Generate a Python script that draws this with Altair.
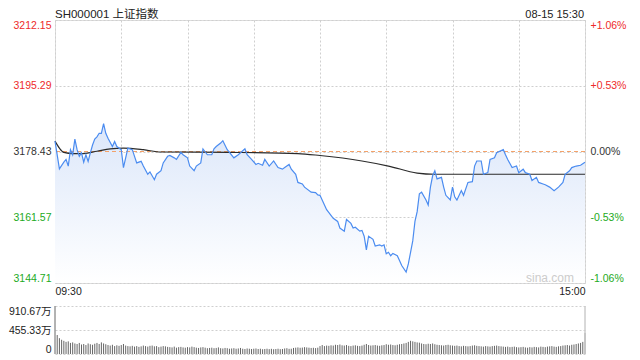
import altair as alt
import pandas as pd

# ---------------- data ----------------
prev_close = 3178.43
price_ticks = [3144.71, 3161.57, 3178.43, 3195.29, 3212.15]
pct_ticks = [-1.06, -0.53, 0.0, 0.53, 1.06]
vol_ticks = [0, 455.33, 910.67]
time_ticks = [0, 30, 60, 90, 120, 150, 180, 210, 240]

price_t = [0, 2, 4, 5, 6, 7, 8, 9, 10, 11, 12, 13, 14, 15, 16, 17, 18, 19, 20, 21,
           22, 23, 24, 26, 27, 28, 30, 31, 33, 35, 37, 39, 40, 42, 43, 45, 46, 48, 49, 51,
           52, 54, 55, 57, 58, 60, 61, 63, 64, 66, 67, 69, 71, 72, 73, 75, 76, 78, 79, 81,
           83, 86, 87, 89, 91, 92, 94, 95, 97, 99, 101, 103, 104, 106, 107, 109, 110, 112, 113, 116,
           118, 119, 120, 123, 126, 128, 129, 131, 132, 134, 135, 136, 138, 139, 140, 141, 142, 144, 145, 147,
           148, 149, 150, 151, 152, 153, 155, 156, 157, 159, 160, 162, 163, 164, 165, 166, 168, 169, 170, 171,
           172, 173, 175, 176, 177, 179, 180, 181, 182, 184, 185, 187, 189, 190, 191, 193, 194, 196, 197, 199,
           200, 203, 204, 205, 207, 209, 210, 212, 213, 215, 216, 218, 219, 221, 222, 224, 226, 228, 230, 231,
           233, 234, 236, 238, 240]
price_v = [3181.1, 3174.0, 3175.7, 3176.4, 3174.7, 3178.9, 3177.6, 3181.6, 3178.9, 3177.2,
           3178.1, 3175.7, 3177.6, 3175.9, 3178.1, 3180.1, 3181.6, 3182.2, 3183.1, 3183.1,
           3185.6, 3183.1, 3181.8, 3179.7, 3181.0, 3179.7, 3178.9, 3174.3, 3179.3, 3178.9,
           3175.5, 3175.9, 3174.7, 3172.6, 3173.2, 3171.2, 3172.6, 3173.5, 3175.5, 3177.2,
           3177.4, 3176.8, 3176.4, 3178.2, 3177.6, 3176.8, 3174.7, 3173.5, 3174.7, 3175.5,
           3179.1, 3177.6, 3177.6, 3179.1, 3179.7, 3180.6, 3181.2, 3178.9, 3178.2, 3176.8,
           3177.6, 3179.1, 3177.6, 3176.4, 3175.1, 3175.4, 3174.9, 3176.4, 3174.7, 3176.0,
           3174.3, 3173.9, 3174.3, 3175.1, 3173.9, 3172.6, 3170.5, 3170.1, 3169.3, 3168.0,
           3167.9, 3167.3, 3167.2, 3163.5, 3161.3, 3160.5, 3158.8, 3158.0, 3161.0, 3160.0,
           3158.8, 3159.0, 3158.0, 3158.2, 3156.7, 3153.2, 3156.7, 3155.9, 3154.2, 3154.5,
           3154.2, 3154.5, 3152.2, 3152.6, 3151.7, 3152.3, 3151.7, 3150.5, 3149.2, 3147.5,
           3149.6, 3155.5, 3160.5, 3163.0, 3167.6, 3168.0, 3166.0, 3164.7, 3169.3, 3172.2,
           3173.5, 3171.4, 3171.8, 3169.3, 3167.2, 3166.0, 3169.3, 3166.8, 3166.0, 3168.4,
           3167.2, 3170.5, 3170.7, 3174.7, 3176.0, 3176.0, 3172.6, 3173.0, 3176.4, 3176.8,
           3178.1, 3178.9, 3177.6, 3176.4, 3174.3, 3174.7, 3173.0, 3173.9, 3173.0, 3172.6,
           3171.0, 3171.8, 3170.5, 3170.1, 3169.9, 3169.3, 3168.4, 3169.3, 3170.5, 3172.6,
           3173.5, 3174.3, 3174.7, 3174.9, 3175.7]

avg_t = [0, 2, 4, 8, 13, 19, 25, 31, 40, 48, 79, 110, 120, 139, 151, 164, 172, 200, 240]
avg_v = [3181.1, 3179.3, 3178.2, 3177.9, 3177.9, 3178.5, 3179.1, 3179.3, 3178.9, 3178.3,
         3178.2, 3177.9, 3177.4, 3176.0, 3174.7, 3172.9, 3172.6, 3172.6, 3172.6]

volume = [910.67,
          360, 300, 270, 250, 230, 240, 210, 220, 200, 190,
          210, 180, 190, 170, 200, 185, 175, 195, 210, 190,
          220, 200, 185, 170, 160, 175, 150, 165, 155, 170,
          190, 160, 150, 145, 155, 140, 150, 135, 145, 160,
          150, 140, 155, 160, 145, 150, 130, 140, 150, 145,
          135, 130, 125, 140, 120, 130, 135, 125, 120, 130,
          125, 140, 130, 120, 115, 125, 130, 120, 110, 115,
          120, 110, 115, 125, 110, 105, 115, 110, 100, 105,
          110, 100, 105, 115, 100, 95, 105, 100, 95, 100,
          105, 95, 100, 90, 95, 100, 92, 98, 90, 95,
          100, 92, 95, 105, 110, 98, 100, 115, 120, 125,
          118, 122, 130, 125, 120, 115, 118, 112, 120, 150,
          170, 150, 160, 155, 165, 160, 175, 170, 180, 165,
          160, 170, 155, 150, 160, 165, 155, 150, 160, 175,
          190, 170, 160, 165, 170, 160, 155, 165, 170, 185,
          175, 180, 170, 165, 175, 185, 190, 200, 210, 230,
          250, 240, 230, 220, 215, 200, 190, 185, 195, 190,
          200, 185, 175, 170, 165, 160, 170, 175, 165, 160,
          155, 160, 150, 145, 155, 150, 145, 150, 160, 165,
          155, 150, 145, 140, 150, 145, 140, 150, 155, 160,
          150, 145, 140, 135, 140, 130, 135, 140, 130, 125,
          130, 135, 125, 120, 130, 125, 135, 130, 125, 140,
          135, 130, 140, 145, 150, 140, 135, 145, 150, 160,
          165, 170, 160, 175, 180, 190, 200, 210, 230, 400]

title_text = "SH000001 上证指数"
date_text = "08-15 15:30"
watermark = "sina.com"

# ---------------- layout ----------------
W = 530
H_MAIN = 263
H_VOL = 48
FONT = "Liberation Sans, Noto Sans CJK SC, sans-serif"
LFS = 10.5
GRID = "#cfcfcf"
RED = "#ee2a2a"
GREEN = "#22aa22"
EXT = 46

price_df = pd.DataFrame({"t": price_t, "p": price_v})
avg_df = pd.DataFrame({"t": avg_t, "p": avg_v})
vol_df = pd.DataFrame({"t": list(range(len(volume))), "v": volume})

x_scale = alt.Scale(domain=[0, 240], nice=False, zero=False)
p_scale = alt.Scale(domain=[price_ticks[0], price_ticks[-1]], nice=False, zero=False)

x_axis = alt.Axis(values=time_ticks,
                  labelExpr="datum.value == 0 ? '09:30' : datum.value == 240 ? '15:00' : ''",
                  grid=True, gridDash=[2, 2], gridColor=GRID, ticks=False, domain=False,
                  labelFlush=True, labelOverlap=False, labelPadding=3, labelFontSize=LFS,
                  labelFont=FONT, labelColor="#222222", title=None)

price_axis = alt.Axis(values=price_ticks, format=".2f",
                      labelColor={"expr": f"datum.value > {prev_close + 0.05} ? '{RED}' : datum.value < {prev_close - 0.05} ? '{GREEN}' : '#333333'"},
                      grid=True, gridDash=[2, 2], gridColor=GRID, ticks=False, domain=False,
                      labelFlush=True, labelPadding=4, labelFontSize=LFS, labelFont=FONT,
                      minExtent=EXT, maxExtent=EXT, title=None)

pct_axis = alt.Axis(orient="right", values=pct_ticks,
                    labelExpr="datum.value > 0.001 ? '+' + format(datum.value, '.2f') + '%' : datum.value < -0.001 ? '-' + format(-datum.value, '.2f') + '%' : '0.00%'",
                    labelColor={"expr": f"datum.value > 0.001 ? '{RED}' : datum.value < -0.001 ? '{GREEN}' : '#333333'"},
                    grid=False, ticks=False, domain=False, labelFlush=True, labelPadding=5,
                    labelFontSize=LFS, labelFont=FONT, title=None)

area = alt.Chart(price_df).mark_area(
    color=alt.Gradient(gradient="linear",
                       stops=[alt.GradientStop(color="#dce7fa", offset=0),
                              alt.GradientStop(color="#ffffff", offset=1)],
                       x1=1, x2=1, y1=0, y2=1),
    interpolate="linear"
).encode(
    x=alt.X("t:Q", scale=x_scale, axis=x_axis),
    y=alt.Y("p:Q", scale=p_scale, axis=price_axis),
    y2=alt.datum(price_ticks[0]),
)

zero_rule = alt.Chart(pd.DataFrame({"z": [0.0]})).mark_rule(
    color="#f4a26a", strokeDash=[4, 3], strokeWidth=1
).encode(
    y=alt.Y("z:Q", scale=alt.Scale(domain=[pct_ticks[0], pct_ticks[-1]], nice=False, zero=False), axis=pct_axis)
)

avg_line = alt.Chart(avg_df).mark_line(color="#2b2b2b", strokeWidth=1.2, interpolate="monotone").encode(
    x=alt.X("t:Q", scale=x_scale),
    y=alt.Y("p:Q", scale=p_scale, axis=None),
)
price_line = alt.Chart(price_df).mark_line(color="#4b8cf0", strokeWidth=1.2).encode(
    x=alt.X("t:Q", scale=x_scale),
    y=alt.Y("p:Q", scale=p_scale, axis=None),
)
lines = alt.layer(avg_line, price_line)

title_mark = alt.Chart(pd.DataFrame({"s": [title_text]})).mark_text(
    align="left", baseline="alphabetic", fontSize=11.5, font=FONT, color="#222222"
).encode(x=alt.value(0), y=alt.value(-2), text="s:N")
date_mark = alt.Chart(pd.DataFrame({"s": [date_text]})).mark_text(
    align="right", baseline="alphabetic", fontSize=11, font=FONT, color="#222222"
).encode(x=alt.value(W - 1), y=alt.value(-2), text="s:N")
wm_mark = alt.Chart(pd.DataFrame({"s": [watermark]})).mark_text(
    align="right", baseline="alphabetic", fontSize=12, font=FONT, color="#cccccc"
).encode(x=alt.value(W - 11), y=alt.value(H_MAIN - 1), text="s:N")

main = alt.layer(area, zero_rule, lines, wm_mark, title_mark, date_mark).resolve_scale(
    y="independent"
).properties(width=W, height=H_MAIN)

vol_bars = alt.Chart(vol_df).mark_rule(color="#666666", strokeWidth=1).encode(
    x=alt.X("t:Q", scale=x_scale, axis=None),
    y=alt.Y("v:Q", scale=alt.Scale(domain=[0, vol_ticks[-1]], nice=False),
            axis=alt.Axis(values=vol_ticks,
                          labelExpr="datum.value == 0 ? '0' : format(datum.value, '.2f') + '万'",
                          grid=True, gridDash=[2, 2], gridColor=GRID, ticks=False, domain=False,
                          labelFlush=True, labelPadding=4, labelFontSize=LFS, labelFont=FONT,
                          labelColor="#222222", minExtent=EXT, maxExtent=EXT, title=None)),
    y2=alt.datum(0),
)
vol_border = alt.Chart(pd.DataFrame({"k": [0, 1]})).mark_rule(color="#cccccc").encode(
    x=alt.value(W), y=alt.value(0), y2=alt.value(H_VOL)
)
vol = alt.layer(vol_bars, vol_border).properties(
    width=W, height=H_VOL, view=alt.ViewBackground(stroke=None)
)

chart = alt.vconcat(main, vol, spacing=8).properties(
    padding=0
).configure_view(stroke="#d4d4d4").configure(font=FONT)

chart.save("out.html", embed_options={"renderer": "svg", "actions": False})
